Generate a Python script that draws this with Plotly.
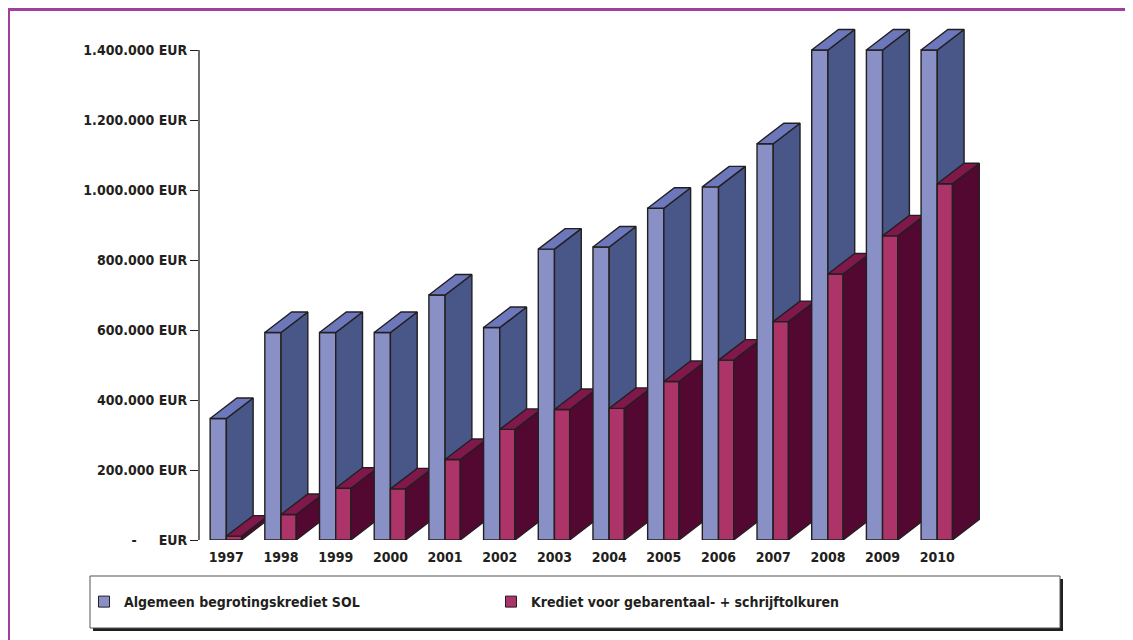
import plotly.graph_objects as go

# ---------------- data ----------------
years = ["1997", "1998", "1999", "2000", "2001", "2002", "2003",
         "2004", "2005", "2006", "2007", "2008", "2009", "2010"]
sol_credit = [347000, 593000, 593000, 593000, 700000, 607000, 831000,
              837000, 948000, 1009000, 1132000, 1400000, 1400000, 1400000]
interpreter_credit = [11000, 73000, 148000, 146000, 230000, 316000, 373000,
                      376000, 453000, 514000, 624000, 760000, 869000, 1018000]
series_names = ["Algemeen begrotingskrediet SOL",
                "Krediet voor gebarentaal- + schrijftolkuren"]
tick_values = [0, 200000, 400000, 600000, 800000, 1000000, 1200000, 1400000]
tick_labels = ["-\u00a0\u00a0\u00a0\u00a0\u00a0EUR", "200.000 EUR", "400.000 EUR",
               "600.000 EUR", "800.000 EUR", "1.000.000 EUR",
               "1.200.000 EUR", "1.400.000 EUR"]

# ---------------- styling / geometry ----------------
PAGE_PAD = 8                  # default body margin of the html page
W, H = 1125, 632
L, R, T, B = 191, 59, 7, 100
XR = (-0.5, 15.5)
YR = (0, 1500000)
PW, PH = W - L - R, H - T - B
unit_px = PW / (XR[1] - XR[0])
val_per_px = (YR[1] - YR[0]) / PH

WB = 16.2 / unit_px          # front width, blue bar
WM = 15.2 / unit_px          # front width, magenta bar
DX = 26.8 / unit_px          # depth (x)
DY = 20.5 * val_per_px       # depth (y)

EDGE = "#231f20"
BLUE = dict(front="#8890c5", side="#485688", top="#6c78bb")
MAG = dict(front="#ac3468", side="#520830", top="#80184c")
FONT = "Liberation Sans Narrow, DejaVu Sans Condensed, Arial Narrow, sans-serif"
FS = 14
TXT = dict(family=FONT, size=FS, color=EDGE, weight="bold")


def px_x(page_px):
    return (page_px - PAGE_PAD - L) / PW


def px_y(page_py):
    return (H - B - (page_py - PAGE_PAD)) / PH


def bar_faces(x0, x1, v):
    front = ([x0, x1, x1, x0, x0], [0, 0, v, v, 0])
    side = ([x1, x1 + DX, x1 + DX, x1, x1], [0, DY, v + DY, v, 0])
    top = ([x0, x1, x1 + DX, x0 + DX, x0], [v, v, v + DY, v + DY, v])
    return [("front", front), ("side", side), ("top", top)]


fig = go.Figure()

for i, yr in enumerate(years):
    for x0, x1, v, pal, grp in ((i - WB, i, sol_credit[i], BLUE, "sol"),
                                 (i, i + WM, interpreter_credit[i], MAG, "tolk")):
        for face, (xs, ys) in bar_faces(x0, x1, v):
            fig.add_trace(go.Scatter(
                x=xs, y=ys, mode="lines", fill="toself",
                fillcolor=pal[face], line=dict(color=EDGE, width=1.4),
                showlegend=False, legendgroup=grp, hoverinfo="skip"))

# legend entries
for name, pal, grp in ((series_names[0], BLUE, "sol"), (series_names[1], MAG, "tolk")):
    fig.add_trace(go.Scatter(
        x=[None], y=[None], mode="markers", name=name, legendgroup=grp,
        marker=dict(symbol="square", size=11, color=pal["front"],
                    line=dict(color=EDGE, width=1))))

shapes = [
    # y axis line
    dict(type="line", xref="paper", yref="y", x0=0, x1=0, y0=0, y1=1400000,
         line=dict(color=EDGE, width=1.3)),
    # legend box shadow and box
    dict(type="rect", xref="paper", yref="paper", x0=px_x(93), x1=px_x(1063),
         y0=px_y(631), y1=px_y(579), fillcolor=EDGE, line=dict(width=0)),
    dict(type="rect", xref="paper", yref="paper", x0=px_x(90), x1=px_x(1060),
         y0=px_y(628), y1=px_y(576), fillcolor="white",
         line=dict(color="#555555", width=1)),
    # purple frame
    dict(type="line", xref="paper", yref="paper", x0=px_x(7), x1=px_x(1140),
         y0=px_y(9.5), y1=px_y(9.5), line=dict(color="#a0409c", width=3)),
    dict(type="line", xref="paper", yref="paper", x0=px_x(8.5), x1=px_x(8.5),
         y0=px_y(8), y1=px_y(645), line=dict(color="#a0409c", width=3)),
]

fig.update_layout(
    width=W, height=H,
    margin=dict(l=L, r=R, t=T, b=B),
    paper_bgcolor="white", plot_bgcolor="white",
    font=TXT,
    shapes=shapes,
    showlegend=True,
    legend=dict(orientation="h", x=px_x(84), y=px_y(602),
                xanchor="left", yanchor="middle",
                bgcolor="rgba(0,0,0,0)", borderwidth=0,
                entrywidth=362, entrywidthmode="pixels",
                font=TXT, itemclick=False, itemdoubleclick=False),
    xaxis=dict(range=list(XR), tickmode="array",
               tickvals=list(range(len(years))), ticktext=years,
               showgrid=False, zeroline=False, showline=False, ticks="",
               ticklabelstandoff=7, tickfont=TXT, fixedrange=True),
    yaxis=dict(range=list(YR), tickmode="array", tickvals=tick_values,
               ticktext=tick_labels, showgrid=False, zeroline=False,
               showline=False, ticks="outside", ticklen=8, tickwidth=1.3,
               tickcolor=EDGE, tickfont=TXT, fixedrange=True),
)

fig.write_html("out.html")
